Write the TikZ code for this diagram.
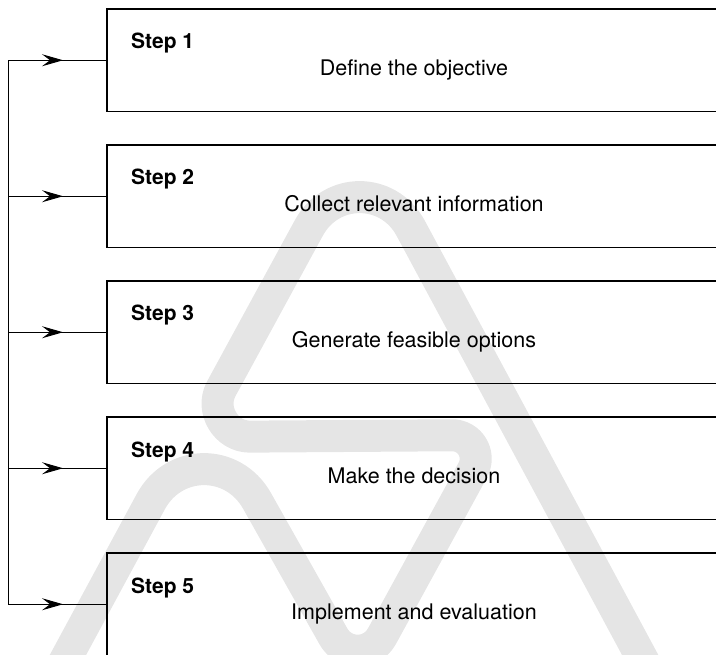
\documentclass[tikz,border=0pt]{standalone}
\usepackage{fontspec}
\setmainfont{TeX Gyre Heros}
\usetikzlibrary{arrows.meta,decorations.markings,calc}
\begin{document}
\begin{tikzpicture}[x=1pt,y=-1pt,
  stepbox/.style={draw, line width=1.2pt, rectangle, anchor=north west,
    minimum width=660pt, minimum height=102.5pt, inner sep=0pt, outer sep=0pt},
  steplabel/.style={anchor=base west, inner sep=0pt,
    font=\fontsize{21}{25}\selectfont\bfseries},
  steptext/.style={anchor=base, inner sep=0pt,
    font=\fontsize{21.5}{26}\selectfont},
  feed/.style={line width=1pt,
    decoration={markings, mark=at position 0.556 with
      {\arrow{Stealth[length=21pt,width=12pt,inset=8pt]}}},
    postaction={decorate}},
  bus/.style={line width=1pt},
  logo/.style={draw=gray!20, line width=32pt, line join=round}
]
\clip (0,0) rectangle (716,655);

% background logo stroke: corner points of its centre line
\coordinate (w0) at (659,690);
\coordinate (wA) at (360,134);
\coordinate (wB) at (195,437);
\coordinate (wC) at (492,435);
\coordinate (wD) at (358,680);
\coordinate (wE) at (203,405);
\coordinate (wF) at (49,690);

% each corner is rounded by a near-circular Bezier arc
\draw[logo] (w0)
  -- ($(wA)!107pt!(w0)$) .. controls ($(wA)!60pt!(w0)$) and ($(wA)!60pt!(wB)$) .. ($(wA)!107pt!(wB)$)
  -- ($(wB)!55pt!(wA)$)  .. controls ($(wB)!31pt!(wA)$) and ($(wB)!31pt!(wC)$) .. ($(wB)!55pt!(wC)$)
  -- ($(wC)!40pt!(wB)$)  .. controls ($(wC)!22pt!(wB)$) and ($(wC)!22pt!(wD)$) .. ($(wC)!40pt!(wD)$)
  -- ($(wD)!50pt!(wC)$)  .. controls ($(wD)!28pt!(wC)$) and ($(wD)!28pt!(wE)$) .. ($(wD)!50pt!(wE)$)
  -- ($(wE)!110pt!(wD)$) .. controls ($(wE)!61pt!(wD)$) and ($(wE)!61pt!(wF)$) .. ($(wE)!110pt!(wF)$)
  -- (wF);

% the five steps
\foreach \i/\txt in {1/Define the objective,
                     2/Collect relevant information,
                     3/Generate feasible options,
                     4/Make the decision,
                     5/Implement and evaluation}{
  \pgfmathsetmacro\ytop{9+136*(\i-1)}
  \node[stepbox] (s\i) at (107,\ytop) {};
  \node[steplabel] (l\i) at (131,\ytop+40) {Step \i};
  \node[steptext] (t\i) at (414,\ytop+66.5) {\txt};
  \coordinate (j\i) at (8,\ytop+51.25);
  \draw[feed] (j\i) -- (s\i.west);
}

% feeding bus on the left
\draw[bus] (j1) -- (j5);
\end{tikzpicture}
\end{document}
